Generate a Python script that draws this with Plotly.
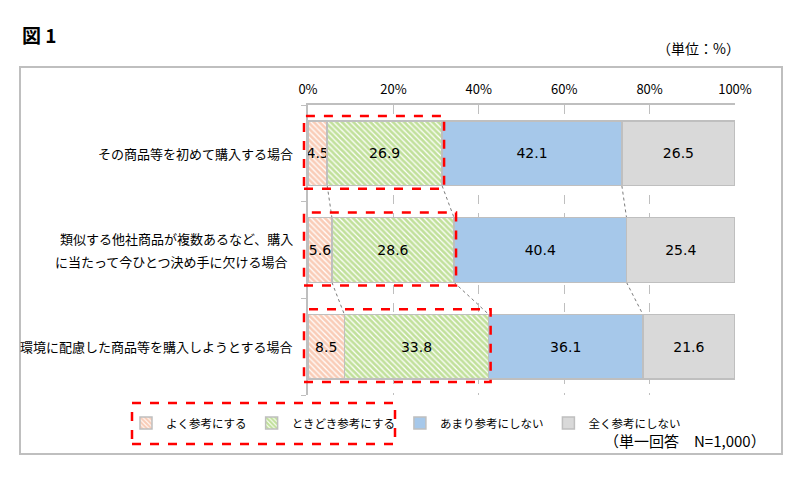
import numpy as np
import plotly.graph_objects as go

# -----------------------------
# Data
# -----------------------------
categories = [
    "その商品等を初めて購入する場合",
    "類似する他社商品が複数あるなど、購入\nに当たって今ひとつ決め手に欠ける場合",
    "環境に配慮した商品等を購入しようとする場合",
]
series_names = ["よく参考にする", "ときどき参考にする", "あまり参考にしない", "全く参考にしない"]
often = [4.5, 5.6, 8.5]
sometimes = [26.9, 28.6, 33.8]
rarely = [42.1, 40.4, 36.1]
never = [26.5, 25.4, 21.6]
x_ticks = [0, 20, 40, 60, 80, 100]

# -----------------------------
# Styles / layout helpers
# -----------------------------
fills = ["#f39a70", "#84c238", "#a6c8ea", "#d9d9d9"]
patterns = ["\\", "\\", "", ""]
BAR_W = 0.67
JP = "Noto Sans CJK JP"
W, H = 800, 485
XDOM = [308 / W, 735 / W]
YDOM = [1 - 395 / H, 1 - 105 / H]
NCAT = len(categories)


def px(v):
    # data value (0-100) -> paper x
    return XDOM[0] + v / 100 * (XDOM[1] - XDOM[0])


def py(c):
    # category position (0 on top) -> paper y
    return YDOM[1] - (c + 0.5) / NCAT * (YDOM[1] - YDOM[0])


fig = go.Figure()
for name, vals, col, pat in zip(series_names, [often, sometimes, rarely, never], fills, patterns):
    marker = dict(color="white" if pat else col, line=dict(color="#bfbfbf", width=1.5))
    if pat:
        marker["pattern"] = dict(shape=pat, fgcolor=col, bgcolor="white", size=4, solidity=0.7)
    fig.add_trace(go.Bar(
        y=list(range(NCAT)), x=vals, name=name, orientation="h",
        marker=marker, width=BAR_W,
        text=[f"{v:.1f}" for v in vals], textposition="inside",
        insidetextanchor="middle", textangle=0, constraintext="none",
        textfont=dict(family="DejaVu Sans", size=14, color="black"),
        cliponaxis=False,
    ))

# series connector lines between bars
data = np.array([often, sometimes, rarely])
cum = np.cumsum(data, axis=0)
shapes = []
for row in cum:
    for i in range(NCAT - 1):
        shapes.append(dict(type="line", xref="paper", yref="paper",
                           x0=px(row[i]), y0=py(i + BAR_W / 2), x1=px(row[i + 1]), y1=py(i + 1 - BAR_W / 2),
                           line=dict(color="#595959", width=0.8, dash="dot"), layer="below"))

# red dashed boxes around "often" + "sometimes"
for i, end in enumerate(cum[1]):
    shapes.append(dict(type="rect", xref="paper", yref="paper",
                       x0=px(0) - 4 / W, x1=px(end) + 2 / W,
                       y0=py(i + BAR_W / 2) - 3 / H, y1=py(i - BAR_W / 2) + 5 / H,
                       line=dict(color="#ff0000", width=2.5, dash="dash")))

# outer frame and legend highlight box
shapes.append(dict(type="rect", xref="paper", yref="paper",
                   x0=20 / W, x1=782 / W, y0=1 - 454 / H, y1=1 - 67 / H,
                   line=dict(color="#bfbfbf", width=2), layer="below"))
shapes.append(dict(type="rect", xref="paper", yref="paper",
                   x0=132 / W, x1=395 / W, y0=1 - 444 / H, y1=1 - 403 / H,
                   line=dict(color="#ff0000", width=2.5, dash="dash")))

# category labels (right aligned, generous line spacing)
annotations = []
for i, label in enumerate(categories):
    lines = label.split("\n")
    n = len(lines)
    for k, line in enumerate(lines):
        annotations.append(dict(
            x=295 / W if n == 1 or k == 0 else 289 / W, xref="paper", y=py(i), yref="paper",
            text=line, showarrow=False, xanchor="right", yanchor="middle",
            yshift=(n - 1) * 11.5 - k * 23, font=dict(family=JP, size=13, color="black")))

annotations += [
    dict(x=20 / W, y=1 - 35 / H, xref="paper", yref="paper", text="<b>図 1</b>",
         showarrow=False, xanchor="left", yanchor="middle", font=dict(family=JP, size=19, color="black")),
    dict(x=742 / W, y=1 - 48 / H, xref="paper", yref="paper", text="（単位：%）",
         showarrow=False, xanchor="right", yanchor="middle", font=dict(family=JP, size=14, color="black")),
    dict(x=768 / W, y=1 - 440 / H, xref="paper", yref="paper", text="（単一回答　N=1,000）",
         showarrow=False, xanchor="right", yanchor="middle", font=dict(family=JP, size=15, color="black")),
]

fig.update_layout(
    barmode="stack",
    width=W, height=H,
    margin=dict(l=0, r=0, t=0, b=0, autoexpand=False),
    paper_bgcolor="white", plot_bgcolor="white",
    font=dict(family=JP, size=12, color="black"),
    uniformtext=dict(minsize=14, mode="show"),
    shapes=shapes, annotations=annotations,
    legend=dict(orientation="h", x=126 / W, y=1 - 423 / H, xanchor="left", yanchor="middle",
                font=dict(family=JP, size=11.5), traceorder="normal", itemwidth=30,
                bgcolor="rgba(0,0,0,0)"),
    xaxis=dict(domain=XDOM, range=[0, 100], side="top", automargin=False,
               tickvals=x_ticks, ticktext=[f"{v}%" for v in x_ticks], ticks="",
               ticklabelstandoff=4,
               showgrid=True, gridcolor="#bfbfbf", griddash="dash", gridwidth=1,
               showline=True, linecolor="#bfbfbf", linewidth=1.5,
               zeroline=False, tickfont=dict(family=JP, size=13), fixedrange=True),
    yaxis=dict(domain=YDOM, range=[NCAT - 0.5, -0.5], automargin=False,
               tickvals=[-0.5, 0.5, 1.5, 2.5], ticktext=["", "", "", ""],
               ticks="outside", ticklen=5, tickcolor="#bfbfbf",
               showline=True, linecolor="#bfbfbf", linewidth=1.5,
               showgrid=False, zeroline=False, fixedrange=True),
)

# drop the default page margin so the figure sits at the window origin
fig.write_html("out.html", config={"displayModeBar": False},
               post_script="document.body.style.margin='0';")
